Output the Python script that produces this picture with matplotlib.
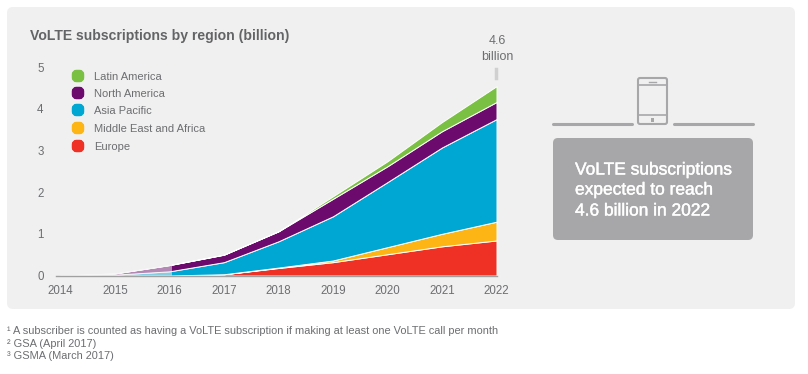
import matplotlib
matplotlib.use('Agg')
import matplotlib.pyplot as plt
from matplotlib.patches import FancyBboxPatch, Rectangle
import matplotlib.patheffects as pe

plt.rcParams['font.family'] = ['Liberation Sans', 'DejaVu Sans']

W, H = 808, 374
panel_color = '#f0f0f0'
text_gray = '#6d6e71'

years = [2014, 2015, 2016, 2017, 2018, 2019, 2020, 2021, 2022]
yticks = [0, 1, 2, 3, 4, 5]

# valores por camada (bilhoes)
europe = [0, 0, 0.0, 0.03, 0.18, 0.32, 0.51, 0.70, 0.84]
middle_east_africa = [0, 0, 0.0, 0.0, 0.01, 0.04, 0.17, 0.30, 0.45]
asia_pacific = [0, 0.02, 0.10, 0.29, 0.63, 1.06, 1.56, 2.07, 2.46]
north_america = [0, 0.03, 0.15, 0.18, 0.24, 0.42, 0.38, 0.39, 0.41]
latin_america = [0, 0, 0, 0, 0, 0.06, 0.12, 0.22, 0.38]

region_names = ['Latin America', 'North America', 'Asia Pacific', 'Middle East and Africa', 'Europe']
region_colors = ['#7ac143', '#6c0a6e', '#00a7d3', '#fdb515', '#ee3124']

title = 'VoLTE subscriptions by region (billion)'
callout = ['VoLTE subscriptions', 'expected to reach', '4.6 billion in 2022']
footnotes = ['¹ A subscriber is counted as having a VoLTE subscription if making at least one VoLTE call per month',
             '² GSA (April 2017)',
             '³ GSMA (March 2017)']

fig = plt.figure(figsize=(W / 100, H / 100), dpi=100, facecolor='white')

# camada de fundo em pixels
bg = fig.add_axes([0, 0, 1, 1], zorder=0)
bg.set_xlim(0, W)
bg.set_ylim(H, 0)
bg.axis('off')
bg.add_patch(FancyBboxPatch((7, 7), 788, 302, boxstyle='round,pad=0,rounding_size=6',
                            fc=panel_color, ec='none'))

# grafico principal
left, right, bottom, top = 56, 497, 275.5, 60
ax = fig.add_axes([left / W, 1 - bottom / H, (right - left) / W, (bottom - top) / H], zorder=1)
ax.patch.set_alpha(0)
px_per_year = (496.5 - 60.5) / 8
ax.set_xlim(2014 - (60.5 - left) / px_per_year, 2022 + (right - 496.5) / px_per_year)
ax.set_ylim(0, (bottom - top) / 41.7)

stacks = ax.stackplot(years, europe, middle_east_africa, asia_pacific, north_america, latin_america,
                      colors=region_colors[::-1], edgecolor='white', linewidth=0.7)

# trecho historico esmaecido ate 2016
ax.axvspan(2013, 2016.05, fc=panel_color, ec='none', alpha=0.55, zorder=3)

for s in ['top', 'right', 'left']:
    ax.spines[s].set_visible(False)
ax.spines['bottom'].set_color('#a0a0a0')
ax.spines['bottom'].set_linewidth(1)
ax.spines['bottom'].set_zorder(4)
ax.set_xticks(years)
ax.set_yticks(yticks)
ax.tick_params(axis='both', length=0, labelsize=8.3, labelcolor=text_gray)
ax.tick_params(axis='x', pad=6.5)
ax.tick_params(axis='y', pad=9)

# textos e anotacoes em pixels
fg = fig.add_axes([0, 0, 1, 1], zorder=2)
fg.set_xlim(0, W)
fg.set_ylim(H, 0)
fg.axis('off')

fg.text(30, 35.5, title, fontsize=10.05, fontweight='bold', color='#636466', va='center', ha='left')

legend_y = [76, 93, 110, 128, 146]
for name, col, ly in zip(region_names, region_colors, legend_y):
    fg.add_patch(FancyBboxPatch((73.5, ly - 4.5), 9, 9, boxstyle='round,pad=0,rounding_size=3',
                                fc=col, ec=col, lw=2.5))
    fg.text(94, ly + 0.5, name, fontsize=8, color=text_gray, va='center', ha='left')

fg.text(497, 41, '4.6', fontsize=9, color=text_gray, ha='center', va='center')
fg.text(497, 57, 'billion', fontsize=9, color=text_gray, ha='center', va='center')
fg.plot([496, 496], [69, 78], color='#d0d0d0', lw=2.5)

# icone do celular
icon = '#a7a7aa'
fg.plot([553, 632], [123.5, 123.5], color=icon, lw=2.2, solid_capstyle='round')
fg.plot([674, 753], [123.5, 123.5], color=icon, lw=2.2, solid_capstyle='round')
fg.add_patch(FancyBboxPatch((638, 78), 29, 46, boxstyle='round,pad=0,rounding_size=2', fc=panel_color, ec=icon, lw=1.5))
fg.plot([638, 667], [85, 85], color=icon, lw=1.2)
fg.plot([638, 667], [115, 115], color=icon, lw=1.2)
fg.plot([649, 656], [81.5, 81.5], color=icon, lw=1)
fg.add_patch(Rectangle((650.5, 118), 3.5, 3.5, fc=icon, ec='none'))

# caixa de destaque
fg.add_patch(FancyBboxPatch((553, 138), 200, 102, boxstyle='round,pad=0,rounding_size=5', fc=icon, ec='none'))
for line, ly in zip(callout, [170, 190, 211]):
    t = fg.text(575, ly, line, fontsize=12.5, color='white', va='center', ha='left')
    t.set_path_effects([pe.withStroke(linewidth=0.3, foreground='white')])

for line, ly in zip(footnotes, [331, 344, 356]):
    fg.text(7, ly, line, fontsize=7.95, color=text_gray, va='center', ha='left')

fig.savefig('out.png', dpi=100)
